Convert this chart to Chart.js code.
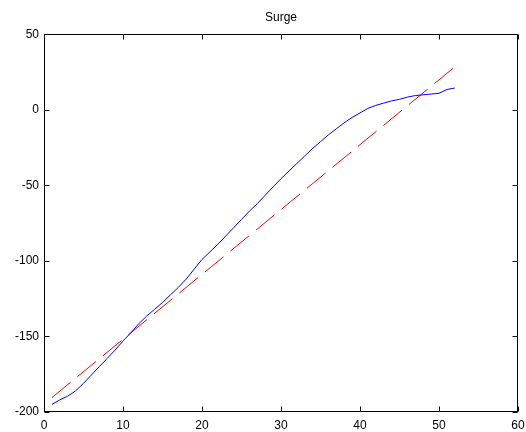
<!DOCTYPE html>
<html>
<head>
<meta charset="utf-8">
<script src="https://cdn.jsdelivr.net/npm/chart.js@4.4.1/dist/chart.umd.min.js"></script>
<style>
  html, body { margin: 0; padding: 0; background: #fff; }
  #wrap { width: 526px; height: 432px; }
</style>
</head>
<body>
<div id="wrap"><canvas id="surgeChart"></canvas></div>
<script>
// samples along x (1..52)
var samples = [1,2,3,4,5,6,7,8,9,10,11,12,13,14,15,16,17,18,19,20,21,22,23,24,25,26,
  27,28,29,30,31,32,33,34,35,36,37,38,39,40,41,42,43,44,45,46,47,48,49,50,51,52];
// measured surge (blue)
var surge = [-195,-192,-189.5,-186,-181,-175.5,-170,-164.5,-159,-153,-147.5,-141.5,-136.5,-132,-127.5,-122.5,-117.5,-112,-105.5,-99,
  -94,-89,-83.5,-78,-72.5,-67,-62,-56.5,-51,-45.5,-40.5,-35.5,-30.5,-25.5,-21,-16.5,-12.5,-8.5,-5,-2,
  1,3,4.5,6,7,8.5,9.5,10,10.5,11,13.5,14.5];
// fitted line (red dashed), end points only
var fitX = [1, 52];
var fitY = [-190.5, 28.5];

var xTicks = { min: 0, max: 60, step: 10 };
var yTicks = { min: -200, max: 50, step: 50 };

function toPoints(xs, ys) {
  return xs.map(function (x, i) { return { x: x, y: ys[i] }; });
}

// MATLAB style box with inward ticks on all four sides
var boxPlugin = {
  id: 'boxPlugin',
  afterDraw: function (chart) {
    var ctx = chart.ctx, a = chart.chartArea;
    var L = Math.round(a.left) + 0.5, R = Math.round(a.right) - 0.5;
    var T = Math.round(a.top) + 0.5, B = Math.round(a.bottom) - 0.5;
    var len = 5;
    ctx.save();
    ctx.strokeStyle = '#000';
    ctx.lineWidth = 1;
    ctx.strokeRect(L, T, R - L, B - T);
    ctx.beginPath();
    chart.scales.x.ticks.forEach(function (t) {
      var px = Math.round(chart.scales.x.getPixelForValue(t.value)) + 0.5;
      ctx.moveTo(px, B); ctx.lineTo(px, B - len);
      ctx.moveTo(px, T); ctx.lineTo(px, T + len);
    });
    chart.scales.y.ticks.forEach(function (t) {
      var py = Math.round(chart.scales.y.getPixelForValue(t.value)) + 0.5;
      ctx.moveTo(L, py); ctx.lineTo(L + len, py);
      ctx.moveTo(R, py); ctx.lineTo(R - len, py);
    });
    ctx.stroke();
    ctx.restore();
  }
};

var tickFont = { family: 'Liberation Sans, Arial, sans-serif', size: 12 };

var ctx = document.getElementById('surgeChart').getContext('2d');
var surgeChart = new Chart(ctx, {
  type: 'line',
  data: {
    datasets: [{
      label: 'surge',
      data: toPoints(samples, surge),
      borderColor: '#0000ff',
      borderWidth: 1,
      pointRadius: 0,
      tension: 0,
      fill: false
    }, {
      label: 'fit',
      data: toPoints(fitX, fitY),
      borderColor: '#ff0000',
      borderWidth: 1,
      borderDash: [24, 9],
      pointRadius: 0,
      tension: 0,
      fill: false
    }]
  },
  options: {
    responsive: true,
    maintainAspectRatio: false,
    animation: false,
    layout: { padding: { left: 0, right: 8, top: 0, bottom: 0 } },
    plugins: {
      legend: { display: false },
      tooltip: { enabled: false },
      title: {
        display: true,
        text: 'Surge',
        fullSize: false,
        color: '#000',
        font: { family: 'Liberation Sans, Arial, sans-serif', size: 12, weight: 'normal' },
        padding: { top: 10, bottom: 10 }
      }
    },
    scales: {
      x: {
        type: 'linear',
        min: xTicks.min,
        max: xTicks.max,
        grid: { display: false, drawTicks: false },
        border: { display: false },
        ticks: { stepSize: xTicks.step, color: '#000', font: tickFont, padding: 6, maxRotation: 0 },
        afterFit: function (s) { s.height = 20; s.paddingLeft = 0; s.paddingRight = 0; }
      },
      y: {
        type: 'linear',
        min: yTicks.min,
        max: yTicks.max,
        grid: { display: false, drawTicks: false },
        border: { display: false },
        ticks: { stepSize: yTicks.step, color: '#000', font: tickFont, padding: 5 },
        afterFit: function (s) { s.width = 44; s.paddingTop = 0; s.paddingBottom = 0; }
      }
    }
  },
  plugins: [boxPlugin]
});
</script>
</body>
</html>
